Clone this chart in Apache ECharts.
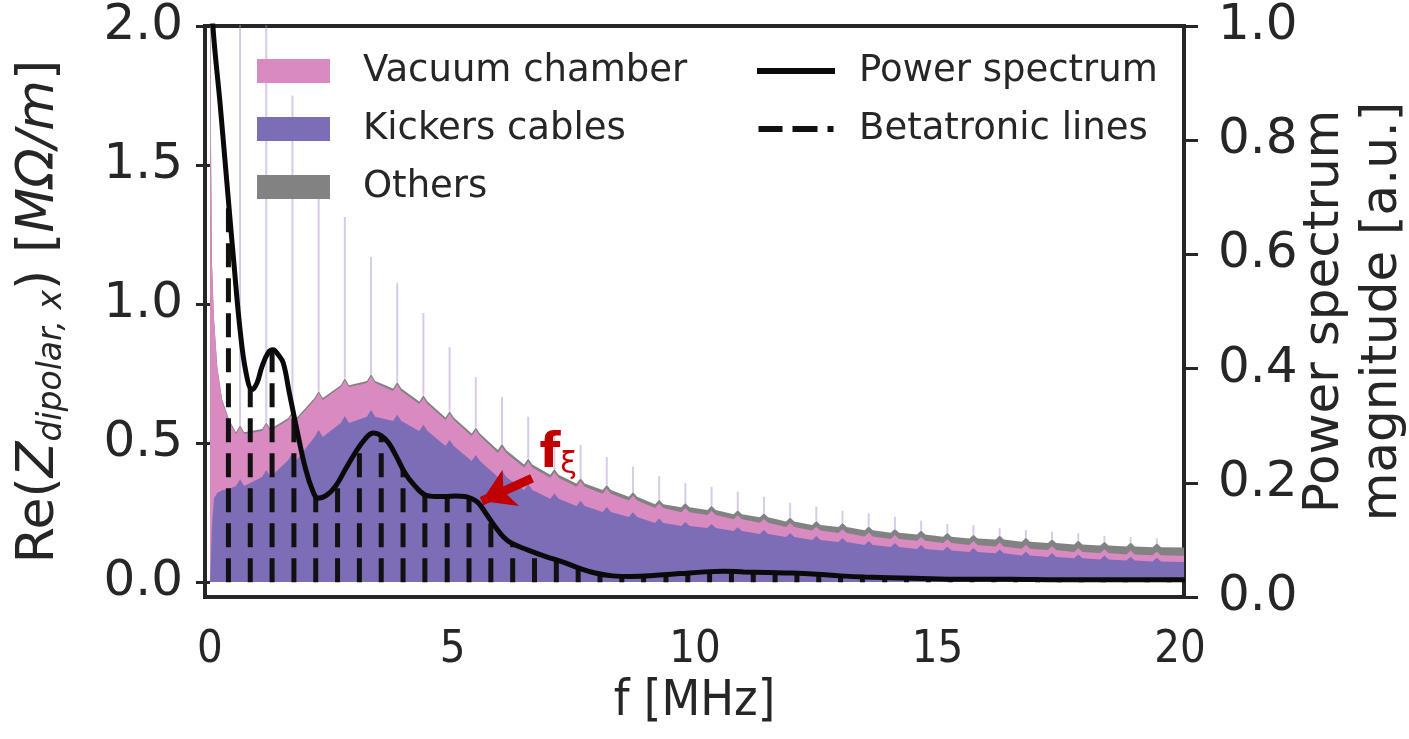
<!DOCTYPE html>
<html><head><meta charset="utf-8">
<script src="https://cdn.jsdelivr.net/npm/echarts@6/dist/echarts.min.js"></script>
<style>html,body{margin:0;padding:0;background:#fff;}#c{width:1409px;height:739px;}</style>
</head><body><div id="c"></div>
<script>
// ---------------- data ----------------
const xTicks = [0, 5, 10, 15, 20];
const yLeftTicks = [0, 0.5, 1.0, 1.5, 2.0];

// impedance near f = 0 (MHz, MOhm/m)
const leadF    = [0.0, 0.008, 0.02, 0.04, 0.08, 0.15, 0.25, 0.4];
const leadKick = [0.0, 0.03, 0.09, 0.2, 0.30, 0.32, 0.33, 0.335];
const leadVac  = [0.0, 2.6, 1.5, 0.95, 0.65, 0.45, 0.32, 0.24];
const leadOth  = [0, 0, 0.002, 0.004, 0.005, 0.006, 0.007, 0.007];
// resonance (harmonic) frequencies
const spikeF = [0.62, 1.16, 1.70, 2.24, 2.78, 3.32, 3.86, 4.40, 4.94, 5.48, 6.02, 6.56, 7.10, 7.64, 8.18, 8.72, 9.26, 9.80, 10.34, 10.88, 11.42, 11.96, 12.50, 13.04, 13.58, 14.12, 14.66, 15.20, 15.74, 16.28, 16.82, 17.36, 17.90, 18.44, 18.98, 19.52];
// kickers cables: level beside each resonance and at its foot
const kickBase = [0.345,0.378,0.439,0.522,0.572,0.594,0.579,0.543,0.489,0.435,0.378,0.331,0.299,0.273,0.252,0.234,0.212,0.201,0.194,0.183,0.173,0.162,0.151,0.144,0.133,0.126,0.119,0.113,0.108,0.103,0.095,0.090,0.085,0.081,0.077,0.074];
const kickFoot = [0.37,0.403,0.464,0.547,0.597,0.619,0.602,0.566,0.511,0.457,0.4,0.352,0.319,0.292,0.27,0.251,0.228,0.216,0.209,0.197,0.187,0.176,0.165,0.158,0.147,0.14,0.133,0.127,0.122,0.117,0.109,0.104,0.099,0.095,0.091,0.088];
const vacAt = [0.187,0.165,0.144,0.133,0.129,0.122,0.108,0.097,0.094,0.09,0.086,0.081,0.076,0.07,0.065,0.059,0.054,0.05,0.047,0.043,0.04,0.036,0.034,0.032,0.031,0.029,0.029,0.027,0.025,0.025,0.025,0.025,0.023,0.023,0.022,0.022];
const othAt = [0.007,0.007,0.007,0.007,0.007,0.007,0.009,0.009,0.009,0.009,0.011,0.011,0.011,0.011,0.014,0.014,0.014,0.018,0.018,0.018,0.02,0.02,0.02,0.022,0.022,0.022,0.023,0.023,0.023,0.025,0.025,0.025,0.027,0.027,0.029,0.029];
// total impedance at the resonance tips
const spikeTip = [2.6,2.6,1.75,1.385,1.313,1.169,1.076,0.968,0.845,0.737,0.665,0.594,0.54,0.493,0.45,0.415,0.38,0.355,0.343,0.325,0.307,0.285,0.271,0.256,0.247,0.235,0.22,0.209,0.205,0.193,0.187,0.181,0.175,0.165,0.161,0.157];
const tailF = [20.1], tailKick = [0.072], tailVac = [0.022], tailOth = [0.03];

// power spectrum (a.u.)
const psF = [0.0,0.06,0.21,0.37,0.49,0.62,0.74,0.87,0.97,1.07,1.20,1.30,1.40,1.51,1.63,1.75,1.86,1.96,2.10,2.23,2.40,2.58,2.80,2.99,3.20,3.37,3.52,3.68,3.85,4.02,4.22,4.43,4.65,4.85,5.06,5.26,5.40,5.53,5.70,5.88,6.05,6.22,6.56,6.91,7.25,7.59,7.94,8.3,8.7,9.2,9.7,10.2,10.6,11.0,11.5,12.0,12.5,13.0,13.5,14.5,15.5,16.5,17.5,18.5,19.5,20.1];
const psP = [1.12,1.0,0.862,0.704,0.587,0.468,0.394,0.363,0.375,0.403,0.428,0.433,0.425,0.41,0.36,0.31,0.265,0.228,0.19,0.173,0.178,0.193,0.225,0.252,0.277,0.287,0.283,0.27,0.245,0.217,0.195,0.179,0.176,0.176,0.177,0.176,0.172,0.165,0.145,0.123,0.105,0.094,0.082,0.071,0.062,0.051,0.042,0.037,0.036,0.038,0.041,0.044,0.045,0.044,0.043,0.042,0.04,0.037,0.035,0.033,0.031,0.031,0.03,0.03,0.03,0.03];

// betatronic lines
const betaF = [0.38,0.83,1.28,1.73,2.18,2.63,3.08,3.53,3.98,4.43,4.89,5.34,5.79,6.24,6.69,7.14,7.59,8.04,8.49,8.94,9.40,9.85,10.30,10.75,11.20,11.65,12.10,12.55,13.00,13.45,13.91,14.36,14.81,15.26,15.71,16.16,16.61,17.06,17.51,17.96,18.42,18.87,19.32,19.77];
const betaP = [0.70,0.366,0.432,0.32,0.178,0.196,0.262,0.283,0.224,0.179,0.176,0.174,0.134,0.093,0.078,0.065,0.051,0.04,0.036,0.037,0.039,0.042,0.044,0.045,0.044,0.043,0.042,0.04,0.037,0.035,0.034,0.033,0.032,0.031,0.031,0.031,0.031,0.03,0.03,0.03,0.03,0.03,0.03,0.03];
const betaBase = 0.026;

// annotation
const fxiArrow = [[6.64, 0.208], [5.60, 0.168]];
const fxiLabel = [7.18, 0.25];

// ---------------- build series data ----------------
const W = 0.085;
const gF = [], gK = [], gV = [], gO = [];
leadF.forEach((f, i) => { gF.push(f); gK.push(leadKick[i]); gV.push(leadVac[i]); gO.push(leadOth[i]); });
spikeF.forEach((f, i) => {
  [[f - W, kickBase[i]], [f, kickFoot[i]], [f + W, kickBase[i]]].forEach(([x, k]) => {
    gF.push(x); gK.push(k); gV.push(vacAt[i]); gO.push(othAt[i]);
  });
});
tailF.forEach((f, i) => { gF.push(f); gK.push(tailKick[i]); gV.push(tailVac[i]); gO.push(tailOth[i]); });
const kickData = gF.map((f, i) => [f, gK[i]]);
const pinkData = gF.map((f, i) => [f, gK[i] + gV[i]]);
const grayData = gF.map((f, i) => [f, gK[i] + gV[i] + gO[i]]);
const spikeData = [];
spikeF.forEach((f, i) => { spikeData.push([f, kickFoot[i] + vacAt[i] + othAt[i]], [f, spikeTip[i]], [f, '-']); });
const betaData = [];
betaF.forEach((f, i) => { betaData.push([f, betaBase], [f, betaP[i]], [f, '-']); });
const psData = psF.map((f, i) => [f, psP[i]]);

const C_VAC = '#d98ac0', C_KICK = '#7d6db6', C_OTH = '#828282';
const TXT = '#262626';
const FONT = 'DejaVu Sans';

const chart = echarts.init(document.getElementById('c'), null, {renderer: 'canvas'});
chart.setOption({
  animation: false,
  backgroundColor: '#fff',
  grid: {left: 205, right: 225, top: 26, bottom: 142, outerBoundsMode: 'none', containLabel: false,
         show: true, borderColor: TXT, borderWidth: 4, backgroundColor: 'transparent'},
  legend: [
    {left: 252, top: 46, orient: 'vertical', itemWidth: 73, itemHeight: 24, itemGap: 18, icon: 'rect', selectedMode: false,
     data: ['Vacuum chamber', 'Kickers cables', 'Others'],
     textStyle: {fontSize: 37, color: TXT, fontFamily: FONT, lineHeight: 40, padding: [0, 0, 0, 28]}},
    {left: 752, top: 46, orient: 'vertical', itemWidth: 78, itemHeight: 6, itemGap: 18, selectedMode: false,
     data: [{name: 'Power spectrum', icon: 'rect'}, {name: 'Betatronic lines', icon: 'path://M0,0h24v6h-24z M34,0h25v6h-25z M69,0h6v6h-6z'}],
     textStyle: {fontSize: 37, color: TXT, fontFamily: FONT, lineHeight: 40, padding: [0, 0, 0, 19]}}
  ],
  xAxis: {
    type: 'value', min: -0.103, max: 20.08,
    axisLine: {show: false}, splitLine: {show: false}, axisTick: {show: false},
    axisLabel: {customValues: xTicks, fontSize: 45, color: TXT, margin: 31, fontFamily: "'Liberation Sans Narrow', 'DejaVu Sans Condensed', 'Liberation Sans'"},
    name: 'f [MHz]', nameLocation: 'middle', nameGap: 80, nameMoveOverlap: false,
    nameTextStyle: {fontSize: 50, color: TXT, fontFamily: "'Liberation Sans Narrow', 'DejaVu Sans Condensed', 'Liberation Sans'"}
  },
  yAxis: [
    {type: 'value', position: 'left', min: -0.054, max: 2.0,
     axisLine: {show: false}, splitLine: {show: false},
     axisTick: {show: true, customValues: yLeftTicks, length: 14, lineStyle: {color: TXT, width: 3}},
     axisLabel: {customValues: yLeftTicks, formatter: v => v.toFixed(1), fontSize: 50, color: TXT, margin: 22, fontFamily: FONT},
     name: '{t|Re(}{z|Z}{s|dipolar, x}{t|) [}{z|MΩ/m}{t|]}', nameLocation: 'middle', nameGap: 136, nameMoveOverlap: false,
     nameTextStyle: {rich: {
       t: {fontSize: 52, color: TXT, fontFamily: FONT, lineHeight: 60},
       z: {fontSize: 52, color: TXT, fontFamily: FONT, fontStyle: 'italic', lineHeight: 60},
       s: {fontSize: 33, color: TXT, fontFamily: FONT, fontStyle: 'italic', lineHeight: 27, verticalAlign: 'bottom'}
     }}
    },
    {type: 'value', position: 'right', min: 0, max: 1, interval: 0.2,
     axisLine: {show: false}, splitLine: {show: false},
     axisTick: {show: true, length: 14, lineStyle: {color: TXT, width: 3}},
     axisLabel: {formatter: v => v.toFixed(1), fontSize: 50, color: TXT, margin: 34, fontFamily: FONT},
     name: 'Power spectrum\nmagnitude [a.u.]', nameLocation: 'middle', nameGap: 112, nameRotate: 90, nameMoveOverlap: false,
     nameTextStyle: {fontSize: 50, color: TXT, fontFamily: FONT, lineHeight: 58}
    }
  ],
  series: [
    {name: 'Others', type: 'line', data: grayData, symbol: 'none', color: C_OTH, lineStyle: {width: 0}, areaStyle: {color: C_OTH, opacity: 1}, z: 2, silent: true},
    {name: 'Vacuum chamber', type: 'line', data: pinkData, symbol: 'none', color: C_VAC, lineStyle: {width: 0}, areaStyle: {color: C_VAC, opacity: 1}, z: 2, silent: true},
    {name: 'Kickers cables', type: 'line', data: kickData, symbol: 'none', color: C_KICK, lineStyle: {width: 0}, areaStyle: {color: C_KICK, opacity: 1}, z: 2, silent: true},
    {name: 'resonances', type: 'line', data: spikeData, symbol: 'none', connectNulls: false, lineStyle: {color: 'rgba(165,140,210,0.45)', width: 2}, z: 2, silent: true},
    {name: 'Betatronic lines', type: 'line', yAxisIndex: 1, data: betaData, symbol: 'none', connectNulls: false, color: '#111',
     lineStyle: {color: '#111', width: 5, type: [24, 11], cap: 'butt'}, z: 3, silent: true},
    {name: 'Power spectrum', type: 'line', yAxisIndex: 1, data: psData, symbol: 'none', smooth: 0.4, color: '#0a0a0a',
     lineStyle: {color: '#0a0a0a', width: 5}, z: 4, silent: true,
     markLine: {silent: true, symbol: ['none', 'arrow'], symbolSize: [30, 32], label: {show: false},
       lineStyle: {color: '#c00000', width: 9, type: 'solid'},
       data: [[{coord: fxiArrow[0]}, {coord: fxiArrow[1]}]]},
     markPoint: {silent: true, symbol: 'circle', symbolSize: 0,
       data: [{coord: fxiLabel}],
       label: {show: true, formatter: '{f|f}{x|ξ}', rich: {
         f: {fontSize: 48, fontWeight: 'bold', color: '#c00000', fontFamily: FONT, lineHeight: 52},
         x: {fontSize: 30, color: '#c00000', fontFamily: FONT, lineHeight: 20, verticalAlign: 'bottom'}
       }}}
    }
  ]
});
</script></body></html>
